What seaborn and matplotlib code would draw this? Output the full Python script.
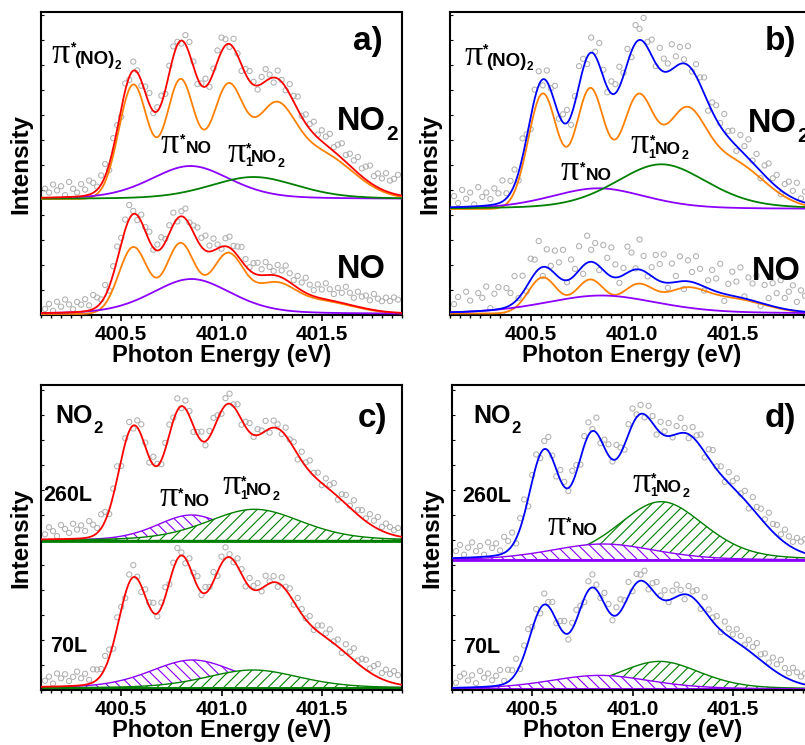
import numpy as np
import matplotlib
matplotlib.use("Agg")
import matplotlib.pyplot as plt
from matplotlib.ticker import MultipleLocator, FormatStrFormatter, NullLocator
import seaborn as sns

sns.set_theme(style="white")
plt.rcParams["font.family"] = ["Liberation Sans", "DejaVu Sans"]
plt.rcParams["font.weight"] = "bold"
plt.rcParams["hatch.linewidth"] = 0.8
plt.rcParams.update({"text.color": "black", "axes.labelcolor": "black",
                     "xtick.color": "black", "ytick.color": "black"})

RED, BLUE = "#ff0000", "#0000ff"
ORANGE, PURPLE, GREEN = "#ff8000", "#8b00ff", "#008000"
DOT = "#b0b0b0"

# ─── Data ─────────────────────────────────────────────────────────────────────
# photon energy of the measured points (eV) and of the fitted curves
E_SCAN = np.round(np.arange(400.12, 401.885, 0.02), 2)
E_FIT = np.linspace(400.1, 401.9, 451)

# vibrational progression of the pi*(NO)2 resonance: positions / widths (eV)
DIMER_POS = [400.56, 400.795, 401.03, 401.26, 401.48]
DIMER_FWHM = [0.17, 0.17, 0.19, 0.23, 0.40]

# broad components given as (position eV, height, FWHM eV); heights in offset units
# panel a
A_NO2_BASE = 1.16
A_NO2_DIMER = [1.14, 1.18, 1.09, 0.75, 0.46]
A_NO2_PINO = (400.845, 0.33, 0.47)
A_NO2_PI1 = (401.16, 0.22, 0.52)
A_NO2_RES = [9, 5, 13, 7, 11, 2, 15, 8, 4, 12,
             6, 14, 10, 3, 9, 12, -6, 10, 4, -8,
             7, -3, 9, 2, -5, 6, 11, -2, 4, 8,
             -4, 7, 10, 3, -3, 9, 12, 5, -6, 2,
             8, -5, 4, 11, 14, 6, -3, 9, 2, -6,
             5, 10, 3, -4, 7, 12, 4, -5, 8, 2,
             -3, 10, 6, 13, 1, 9, 5, 12, 3, 11,
             8, 14, 4, 10, 15, 7, 12, 9, 16, 8,
             13, 17, 9, 14, 11, 18, 12, 15, 20]
A_NO_BASE = 0.01
A_NO_DIMER = [0.667, 0.70, 0.59, 0.255, 0.13]
A_NO_TOTAL = [0.87, 0.63, 0.42, 0.27, 0.13]
A_NO_PINO = (400.85, 0.35, 0.47)
A_NO_RES = [4, 9, 2, 11, 6, 13, 8, 3, 10, 7,
            12, 5, 14, 9, 3, 11, -4, 8, 13, 6,
            10, 14, 3, -5, 7, 4, 9, -2, 6, 11,
            3, 8, 12, -3, 5, 10, 2, 7, 13, 9,
            15, 6, 12, 4, -2, 8, 11, 5, 9, 14,
            7, 3, 10, 12, 6, 13, 8, 4, 11, 7,
            14, 9, 5, 12, 8, 15, 10, 6, 13, 9,
            16, 11, 7, 14, 10, 17, 12, 8, 15, 11,
            13, 9, 16, 12, 10, 14, 11, 15, 13]

# panel b
B_NO2_BASE = 1.06
B_NO2_DIMER = [1.15, 1.19, 1.08, 0.79, 0.48]
B_NO2_PINO = (400.835, 0.207, 0.56)
B_NO2_PI1 = (401.148, 0.447, 0.54)
B_NO2_RES = [11, 4, 17, 8, 14, 2, 19, 9, 13, 6,
             16, 10, 21, 5, 12, 15, -8, 18, 3, -12,
             9, 14, -6, 11, 2, 17, -4, 8, 13, -9,
             6, 19, 10, -7, 15, 4, 22, 7, -5, 12,
             9, 20, 3, 14, -6, 18, 11, 24, 6, 16,
             -3, 21, 13, 8, 25, 10, 17, 4, 19, -2,
             12, 7, 16, -8, 9, 14, 3, 18, 6, 11,
             -5, 15, 8, 19, 2, 13, -7, 10, 16, 5,
             12, -4, 9, 14, 7, 17, 3, 11, 8]
B_NO_BASE = 0.015
B_NO_DIMER = [0.36, 0.335, 0.28, 0.19, 0.15]
B_NO_PINO = (400.85, 0.18, 0.66)
B_NO_RES = [8, 15, -3, 20, 11, -6, 18, 13, 24, 2,
            16, 22, -7, 19, 12, 26, 0, 17, -5, 21,
            14, 28, -9, 18, 4, 23, 15, 30, -2, 19,
            6, 24, -8, 27, 12, 20, -4, 25, 16, 29,
            13, -6, 7, 26, 18, 1, 30, 15, -3, 9,
            24, 17, 28, -5, 19, 6, 25, -8, 21, 10,
            27, 16, -4, 8, 20, 13, 29, -7, 11, 24,
            15, 30, 2, 22, 17, 26, -3, 19, 7, 23,
            14, 28, 11, 18, 25, 9, 21, 16, 13]

# panel c
C_260_BASE = 1.495
C_260_DIMER = [1.05, 0.98, 0.90, 0.62, 0.42]
C_260_PINO = (400.85, 0.255, 0.41)
C_260_PI1 = (401.165, 0.312, 0.56)
C_260_RES = [5, 12, 8, 3, 14, 10, 6, 15, 9, 13,
             7, 16, 11, 5, 14, 9, -4, 7, 12, -6,
             5, 9, -3, 7, 11, 4, -5, 8, 2, -4,
             6, 10, 3, 12, -2, 8, 5, -6, 3, 9,
             -4, 6, 11, 4, -3, 7, 10, 2, 8, -5,
             5, 9, -2, 6, 3, 10, -4, 7, 4, -3,
             8, 2, 6, -5, 9, 4, 11, 3, 7, -2,
             8, 5, 10, -3, 6, 9, 2, 11, 5, 8,
             3, 10, 6, 12, 4, 9, 7, 5, 8]
C_70_BASE = 0.02
C_70_DIMER = [0.98, 0.98, 0.90, 0.64, 0.43]
C_70_PINO = (400.856, 0.28, 0.50)
C_70_PI1 = (401.157, 0.18, 0.55)
C_70_RES = [6, 10, 3, 13, 8, 12, 5, 9, 14, 7,
            11, 4, 13, 10, 6, 12, 8, -5, 10, 3,
            -4, 8, 12, 2, -6, 7, 4, 10, -3, 5,
            9, -2, 6, 11, 3, -5, 8, 4, 10, -3,
            6, 2, 9, -4, 7, 11, 3, -2, 8, 5,
            -5, 9, 4, 7, -3, 10, 2, 6, -4, 8,
            3, 7, -3, 10, 5, 1, 8, -2, 6, 9,
            4, 11, 2, 7, -3, 9, 5, 12, 3, 8,
            10, 4, 9, 13, 6, 11, 8, 12, 9]

# panel d
D_260_BASE = 1.30
D_260_DIMER = [0.98, 0.94, 0.77, 0.48, 0.53]
D_260_PINO = (400.853, 0.16, 0.62)
D_260_PI1 = (401.143, 0.583, 0.51)
D_260_RES = [7, 13, 3, 10, 15, 6, 11, 2, 14, 8,
             12, 4, 16, 9, 13, -5, 10, 15, -8, 6,
             11, -4, 8, 14, 3, -7, 10, 5, -3, 12,
             7, -6, 9, 13, 2, 15, -4, 8, 11, -2,
             14, 6, -5, 10, 16, 3, 9, -3, 12, 7,
             -6, 11, 4, 13, -2, 8, 15, 5, -4, 10,
             6, 12, -5, 9, 14, 3, 8, -3, 11, 6,
             13, 2, 9, -4, 12, 7, 10, 4, 15, 8,
             11, 5, 13, 9, 6, 12, 10, 14, 8]
D_70_BASE = 0.01
D_70_DIMER = [0.75, 0.79, 0.69, 0.50, 0.40]
D_70_PINO = (400.837, 0.136, 0.60)
D_70_PI1 = (401.135, 0.276, 0.48)
D_70_RES = [5, 11, 14, 7, 12, 4, 16, 9, 13, 6,
            10, 15, 3, 12, 8, 14, -4, 9, 13, 2,
            8, -5, 11, 4, 10, -3, 7, 12, -6, 6,
            10, 3, -4, 9, 13, 5, -2, 11, 7, -5,
            8, 12, 4, 14, -3, 9, 6, 11, -4, 7,
            13, 3, 10, -2, 8, 12, 5, -5, 9, 6,
            11, -3, 14, 7, 4, 10, -2, 12, 8, 5,
            13, 9, 3, 11, 7, 14, 6, 10, 4, 12,
            8, 15, 9, 6, 13, 10, 7, 11, 9]


# ─── Fit model ────────────────────────────────────────────────────────────────

def peak(e, pos, height, fwhm, eta=0.0):
    u = (e - pos) / (fwhm / 2)
    return height * ((1 - eta) * np.exp(-np.log(2) * u ** 2) + eta / (1 + u ** 2))


def dimer(e, amps):
    return sum(peak(e, p, a, w) for p, a, w in zip(DIMER_POS, amps, DIMER_FWHM))


def broad(e, comp):
    if comp is None:
        return np.zeros_like(e)
    return peak(e, *comp, eta=0.3)


def total(e, base, amps, pino, pi1):
    return base + dimer(e, amps) + broad(e, pino) + broad(e, pi1)


# ─── Figure ───────────────────────────────────────────────────────────────────
W, H = 805, 745
fig = plt.figure(figsize=(W / 100, H / 100), dpi=100)
renderer = fig.canvas.get_renderer()


def px_axes(left, top, right, bottom):
    return fig.add_axes([left / W, 1 - bottom / H, (right - left) / W, (bottom - top) / H])


def ftxt(x, y, s, size, **kw):
    kw.setdefault("fontweight", "bold")
    return fig.text(x / W, 1 - y / H, s, fontsize=size, va="baseline", ha="left", **kw)


def chem(x, y, main, size, sub, subsize, dy, gap=0.5):
    # main text followed directly by a lowered subscript
    t = ftxt(x, y, main, size)
    x1 = t.get_window_extent(renderer).x1
    ftxt(x1 + gap, y + dy, sub, subsize)


def pi_label(x, y, kind):
    ftxt(x - 1, y, "π", 26, family=["Liberation Serif", "DejaVu Serif"], fontweight="normal")
    if kind == "NO":
        ftxt(x + 17, y - 9, "*", 10)
        ftxt(x + 24, y, "NO", 12.5)
    elif kind == "1NO2":
        ftxt(x + 17, y - 9, "*", 10)
        ftxt(x + 17, y + 4.5, "1", 9)
        chem(x + 23, y + 0.5, "NO", 12.5, "2", 9, 5)
    else:
        ftxt(x + 17, y - 12, "*", 10)
        chem(x + 21, y + 1, "(NO)", 13.5, "2", 8.5, 4.5)


def style_axes(ax, top):
    ax.set_xlim(400.1, 401.9)
    ax.set_ylim(0, top)
    ax.xaxis.set_major_locator(MultipleLocator(0.5))
    ax.xaxis.set_minor_locator(MultipleLocator(0.05))
    ax.xaxis.set_major_formatter(FormatStrFormatter("%.1f"))
    ax.yaxis.set_major_locator(NullLocator())
    ax.yaxis.set_minor_locator(MultipleLocator(0.25))
    ax.tick_params(axis="x", which="major", direction="out", length=4.5, width=1.2,
                   labelsize=15, pad=2.5, bottom=True, top=False)
    ax.tick_params(axis="x", which="minor", direction="out", length=2.5, width=1.0,
                   bottom=True, top=False)
    ax.tick_params(axis="y", which="minor", direction="in", length=2.5, width=0.8,
                   left=True, right=False)
    for sp in ax.spines.values():
        sp.set_color("black")
        sp.set_linewidth(1.5)
    ax.set_xlabel("Photon Energy (eV)", fontsize=17, fontweight="bold", labelpad=0)
    ax.set_ylabel("Intensity", fontsize=17.5, fontweight="bold", labelpad=3)


def dots(ax, base, amps, pino, pi1, res):
    y = total(E_SCAN, base, amps, pino, pi1) + np.array(res) / 100
    sns.scatterplot(x=E_SCAN, y=y, ax=ax, marker="o", s=14, facecolor="none",
                    edgecolor=DOT, linewidth=0.75, zorder=2, legend=False)


def line(ax, y, color, lw=1.3, z=3):
    sns.lineplot(x=E_FIT, y=y, ax=ax, color=color, lw=lw, zorder=z, sort=False,
                 estimator=None, legend=False)


def fit_panel(ax, color, base, amps, pino, pi1, res, total_amps=None):
    tamps = amps if total_amps is None else total_amps
    dots(ax, base, tamps, pino, pi1, res)
    line(ax, base + dimer(E_FIT, amps), ORANGE)
    line(ax, base + broad(E_FIT, pino), PURPLE)
    if pi1 is not None:
        line(ax, base + broad(E_FIT, pi1), GREEN)
    line(ax, total(E_FIT, base, tamps, pino, pi1), color, z=4)


def hatch_panel(ax, color, base, amps, pino, pi1, res, green_on_top):
    dots(ax, base, amps, pino, pi1, res)
    fills = [(pino, PURPLE, "\\\\\\"), (pi1, GREEN, "///")]
    if not green_on_top:
        fills = fills[::-1]
    for i, (comp, c, h) in enumerate(fills):
        ax.fill_between(E_FIT, base, base + broad(E_FIT, comp), facecolor="white",
                        edgecolor=c, hatch=h, linewidth=1.0, zorder=1 + 0.1 * i)
    top_c = fills[-1][1]
    line(ax, np.full_like(E_FIT, base), top_c, lw=2.0, z=1.5)
    line(ax, total(E_FIT, base, amps, pino, pi1), color, z=4)


# --- a) ----------------------------------------------------------------------
ax_a = px_axes(41, 12, 402, 315)
fit_panel(ax_a, RED, A_NO2_BASE, A_NO2_DIMER, A_NO2_PINO, A_NO2_PI1, A_NO2_RES)
fit_panel(ax_a, RED, A_NO_BASE, A_NO_DIMER, A_NO_PINO, None, A_NO_RES, A_NO_TOTAL)
style_axes(ax_a, 3.03)

# --- b) ----------------------------------------------------------------------
ax_b = px_axes(450, 12, 813, 315)
fit_panel(ax_b, BLUE, B_NO2_BASE, B_NO2_DIMER, B_NO2_PINO, B_NO2_PI1, B_NO2_RES)
fit_panel(ax_b, BLUE, B_NO_BASE, B_NO_DIMER, B_NO_PINO, None, B_NO_RES)
style_axes(ax_b, 3.03)

# --- c) ----------------------------------------------------------------------
ax_c = px_axes(41, 385, 402, 690)
hatch_panel(ax_c, RED, C_260_BASE, C_260_DIMER, C_260_PINO, C_260_PI1, C_260_RES, True)
hatch_panel(ax_c, RED, C_70_BASE, C_70_DIMER, C_70_PINO, C_70_PI1, C_70_RES, True)
style_axes(ax_c, 3.05)

# --- d) ----------------------------------------------------------------------
ax_d = px_axes(452, 385, 813, 690)
hatch_panel(ax_d, BLUE, D_260_BASE, D_260_DIMER, D_260_PINO, D_260_PI1, D_260_RES, False)
hatch_panel(ax_d, BLUE, D_70_BASE, D_70_DIMER, D_70_PINO, D_70_PI1, D_70_RES, False)
style_axes(ax_d, 3.05)

# ─── Annotations ──────────────────────────────────────────────────────────────
ftxt(353, 50, "a)", 24)
ftxt(765, 50, "b)", 24)
ftxt(358, 427, "c)", 24)
ftxt(765, 427, "d)", 24)

chem(337, 130, "NO", 23.5, "2", 15, 10)
ftxt(337, 278, "NO", 23.5)
chem(748, 132, "NO", 23.5, "2", 15, 10)
ftxt(752, 280, "NO", 23.5)
chem(55, 423, "NO", 18, "2", 12, 10)
chem(473, 423, "NO", 18, "2", 12, 10)
ftxt(43, 501, "260L", 15.5)
ftxt(50, 652, "70L", 15.5)
ftxt(462, 502, "260L", 15.5)
ftxt(463, 653, "70L", 15.5)

pi_label(52.7, 63.3, "dimer")
pi_label(161.7, 152.7, "NO")
pi_label(228.3, 161.7, "1NO2")
pi_label(465, 65, "dimer")
pi_label(561.7, 180, "NO")
pi_label(631.7, 153.3, "1NO2")
pi_label(160, 506, "NO")
pi_label(223, 494.5, "1NO2")
pi_label(548, 535, "NO")
pi_label(633, 491.7, "1NO2")

fig.savefig("out.png", dpi=100)
